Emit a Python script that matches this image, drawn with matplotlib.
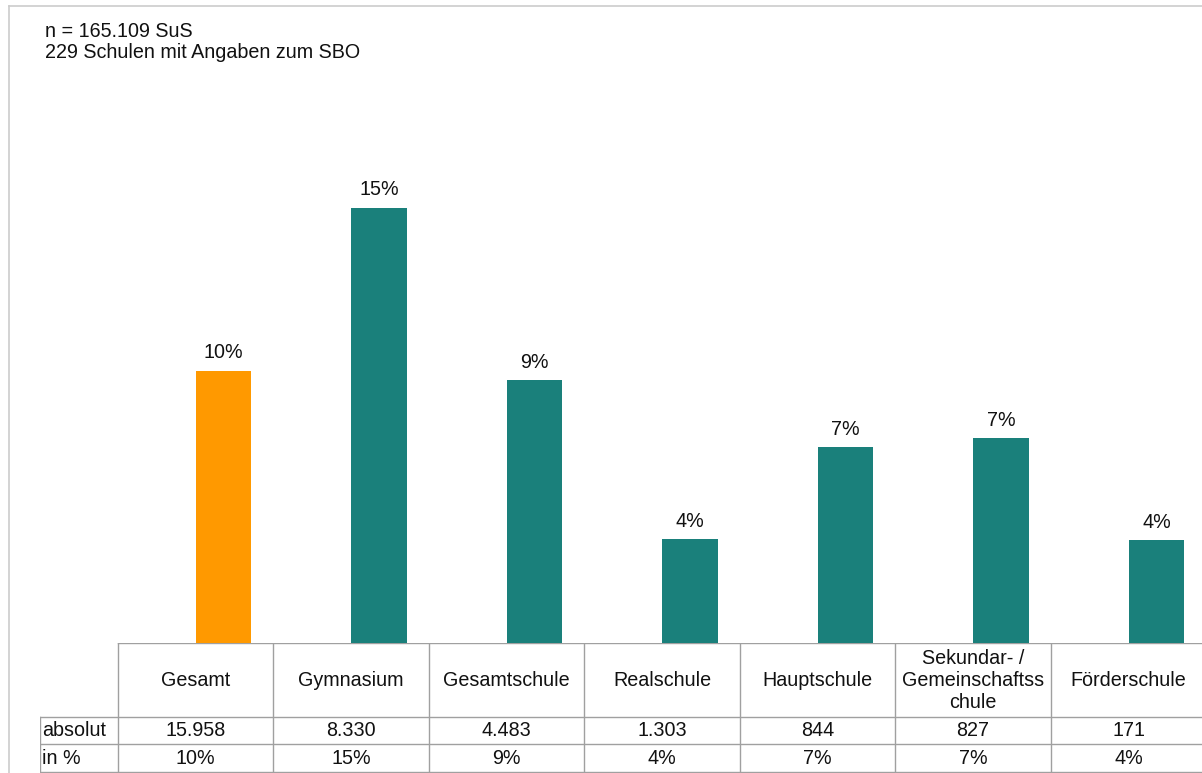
import matplotlib.pyplot as plt

plt.rcParams['font.family'] = ['Liberation Sans', 'DejaVu Sans']

schulformen = ['Gesamt', 'Gymnasium', 'Gesamtschule', 'Realschule', 'Hauptschule',
               'Sekundar- /\nGemeinschaftss\nchule', 'Förderschule']
anteil = [9.67, 15.47, 9.34, 3.69, 6.96, 7.28, 3.66]
absolut = ['15.958', '8.330', '4.483', '1.303', '844', '827', '171']
farben = ['#ff9900'] + ['#1a807b'] * 6

W, H = 1202, 773
fig = plt.figure(figsize=(W / 100, H / 100), dpi=100)
fs = 14.2
tc = '#111111'

# pixel helper: left, top, width, height -> figure fraction
def rect(x, y, w, h):
    return [x / W, 1 - (y + h) / H, w / W, h / H]

base_y = 643
col_w = 155.5
x_left = 40
x_right = x_left + col_w * 7.5

# bars
ax = fig.add_axes(rect(x_left, 80, x_right - x_left, base_y - 80))
ax.set_xlim(-1, 6.5)
ax.set_ylim(0, 20)
xs = [i + 0.18 for i in range(len(anteil))]
ax.bar(xs, anteil, width=0.36, color=farben)
for x, v in zip(xs, anteil):
    ax.annotate(f'{round(v):.0f}%', (x, v), xytext=(0, 6), textcoords='offset points',
                ha='center', va='bottom', fontsize=fs, color=tc)
ax.axis('off')

# table below the bars
tab = fig.add_axes(rect(x_left, base_y, x_right - x_left, H - base_y))
tab.set_xlim(-1, 6.5)
tab.set_ylim(H - base_y, 0)
tab.axis('off')
lc = '#a0a0a0'
row_y = [0, 74, 101, 128.5]
tab.plot([-0.5, 6.5], [row_y[0]] * 2, color=lc, lw=1)
for y in row_y[1:]:
    tab.plot([-1, 6.5], [y, y], color=lc, lw=1)
tab.plot([-1, -1], [row_y[1], row_y[3]], color=lc, lw=1)
for i in range(7):
    tab.plot([i - 0.5, i - 0.5], [row_y[0], row_y[3]], color=lc, lw=1)

for i, name in enumerate(schulformen):
    tab.text(i, 37, name, ha='center', va='center', fontsize=fs,
             color=tc, linespacing=1.2)
    tab.text(i, 87.5, absolut[i], ha='center', va='center', fontsize=fs, color=tc)
    tab.text(i, 115, f'{round(anteil[i]):.0f}%', ha='center', va='center',
             fontsize=fs, color=tc)
tab.text(-0.985, 87.5, 'absolut', ha='left', va='center', fontsize=fs, color=tc)
tab.text(-0.985, 115, 'in %', ha='left', va='center', fontsize=fs, color=tc)

# outer frame
fc = '#cccccc'
fig.add_artist(plt.Line2D([9 / W, 9 / W], [0, 1 - 6 / H], color=fc, lw=1.2))
fig.add_artist(plt.Line2D([9 / W, 1], [1 - 6 / H, 1 - 6 / H], color=fc, lw=1.2))

fig.text(45 / W, 1 - 37 / H, 'n = 165.109 SuS', fontsize=fs, color=tc, va='baseline')
fig.text(45 / W, 1 - 58 / H, '229 Schulen mit Angaben zum SBO', fontsize=fs,
         color=tc, va='baseline')

fig.savefig('out.png', dpi=100)
